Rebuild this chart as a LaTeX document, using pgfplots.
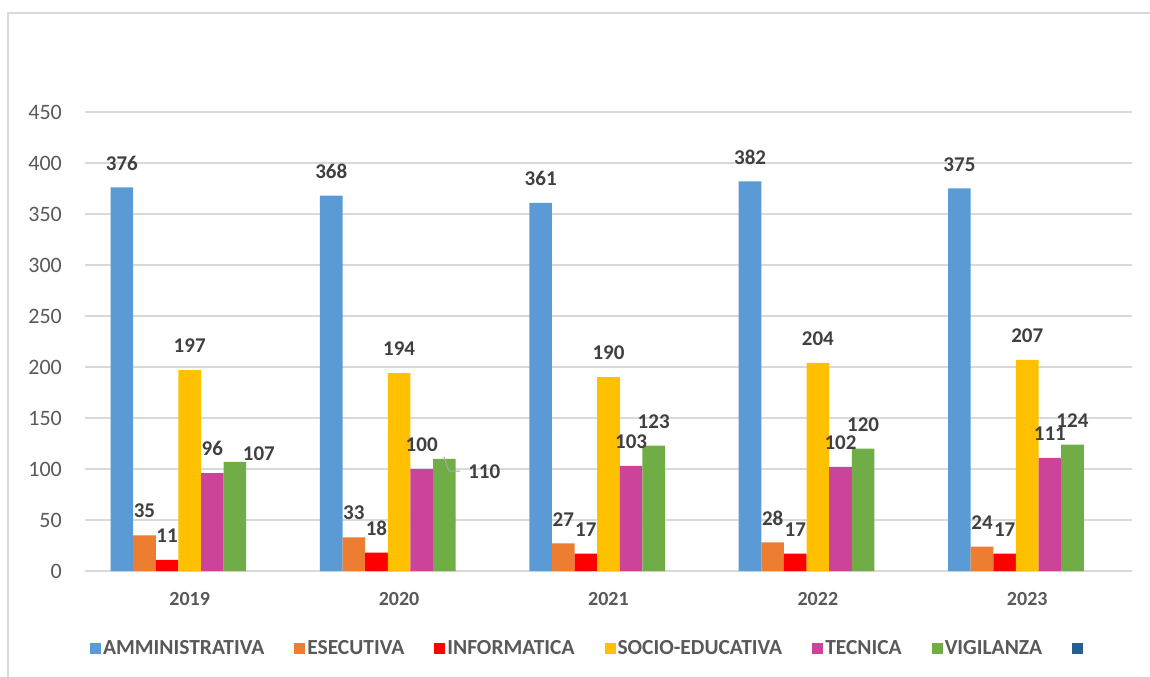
\documentclass[border=0pt]{standalone}
\usepackage{pgfplots}
\usepackage{pgfplotstable}
\pgfplotsset{compat=1.18}
\usepackage{fontspec}
\setmainfont{Carlito}
\definecolor{cAmm}{HTML}{5B9BD5}
\definecolor{cEse}{HTML}{ED7D31}
\definecolor{cInf}{HTML}{FF0000}
\definecolor{cSoc}{HTML}{FFC000}
\definecolor{cTec}{HTML}{CC4499}
\definecolor{cVig}{HTML}{70AD47}
\definecolor{cDark}{HTML}{255E91}
\definecolor{gridc}{HTML}{D9D9D9}
\definecolor{tickc}{HTML}{595959}
\definecolor{labc}{HTML}{404040}

\pgfplotstableread{
x y
0 376
1 368
2 361
3 382
4 375
}\tamm
\pgfplotstableread{
x y
0 35
1 33
2 27
3 28
4 24
}\tese
\pgfplotstableread{
x y
0 11
1 18
2 17
3 17
4 17
}\tinf
\pgfplotstableread{
x y
0 197
1 194
2 190
3 204
4 207
}\tsoc
\pgfplotstableread{
x y
0 96
1 100
2 103
3 102
4 111
}\ttec
\pgfplotstableread{
x y dx dy
0 107 24 -16
1 110 40 -37
2 123 0 0
3 120 0 0
4 124 0 0
}\tvig

\begin{document}
\begin{tikzpicture}
\useasboundingbox (-85bp,-106bp) rectangle (1065bp,571bp);
\draw[gridc, line width=1.2bp] (-77bp,-106bp) -- (-77bp,558bp) -- (1065bp,558bp);
\begin{axis}[
  at={(0,0)}, anchor=south west,
  scale only axis,
  width=1047bp, height=459bp,
  xmin=-0.5, xmax=4.5,
  ymin=0, ymax=450,
  ytick={0,50,...,450},
  xtick={0,1,2,3,4},
  xticklabels={2019,2020,2021,2022,2023},
  axis line style={draw=none},
  major tick length=0pt,
  ymajorgrids,
  grid style={gridc, line width=1.2bp},
  /pgf/number format/assume math mode=true,
  yticklabel style={font=\fontsize{22bp}{26bp}\selectfont, text=tickc, inner sep=0pt, xshift=-23bp},
  xticklabel style={font=\fontsize{20bp}{24bp}\selectfont\bfseries, text=tickc, inner sep=0pt, anchor=north, yshift=-21bp},
  nodes near coords style={font=\fontsize{21bp}{25bp}\selectfont\bfseries, text=labc, anchor=south, inner sep=0pt, yshift=17bp},
  legend columns=-1,
  legend style={at={(0.481,-0.168)}, anchor=center, draw=none, fill=none,
    font=\fontsize{21.5bp}{25bp}\selectfont\bfseries, text=tickc,
    nodes={inner sep=2bp},
    /tikz/every even column/.append style={column sep=28bp}},
  legend image code/.code={\fill[#1] (0bp,-5.5bp) rectangle (11bp,5.5bp);},
]
\addplot[ybar, bar width=0.108, bar shift=-0.324, fill=cAmm, draw=none, nodes near coords,
  nodes near coords style={xshift=-67.8bp}] table[x=x,y=y] {\tamm};
\addlegendentry{AMMINISTRATIVA}
\addplot[ybar, bar width=0.108, bar shift=-0.216, fill=cEse, draw=none, nodes near coords,
  nodes near coords style={xshift=-45.2bp}] table[x=x,y=y] {\tese};
\addlegendentry{ESECUTIVA}
\addplot[ybar, bar width=0.108, bar shift=-0.108, fill=cInf, draw=none, nodes near coords,
  nodes near coords style={xshift=-22.6bp}] table[x=x,y=y] {\tinf};
\addlegendentry{INFORMATICA}
\addplot[ybar, bar width=0.108, bar shift=0, fill=cSoc, draw=none, nodes near coords] table[x=x,y=y] {\tsoc};
\addlegendentry{SOCIO-EDUCATIVA}
\addplot[ybar, bar width=0.108, bar shift=0.108, fill=cTec, draw=none, nodes near coords,
  nodes near coords style={xshift=22.6bp}] table[x=x,y=y] {\ttec};
\addlegendentry{TECNICA}
\addplot[ybar, bar width=0.108, bar shift=0.216, fill=cVig, draw=none, nodes near coords,
  visualization depends on={\thisrow{dx} \as \ldx},
  visualization depends on={\thisrow{dy} \as \ldy},
  nodes near coords style={xshift=45.2bp, xshift=\ldx bp, yshift=\ldy bp}] table[x=x,y=y] {\tvig};
\addlegendentry{VIGILANZA}
\addlegendimage{fill=cDark, draw=none}
\addlegendentry{}
\draw[gray!70, line width=1bp] (axis cs:1.214,112) -- (axis cs:1.238,98) -- (axis cs:1.291,98);
\end{axis}
\end{tikzpicture}
\end{document}
